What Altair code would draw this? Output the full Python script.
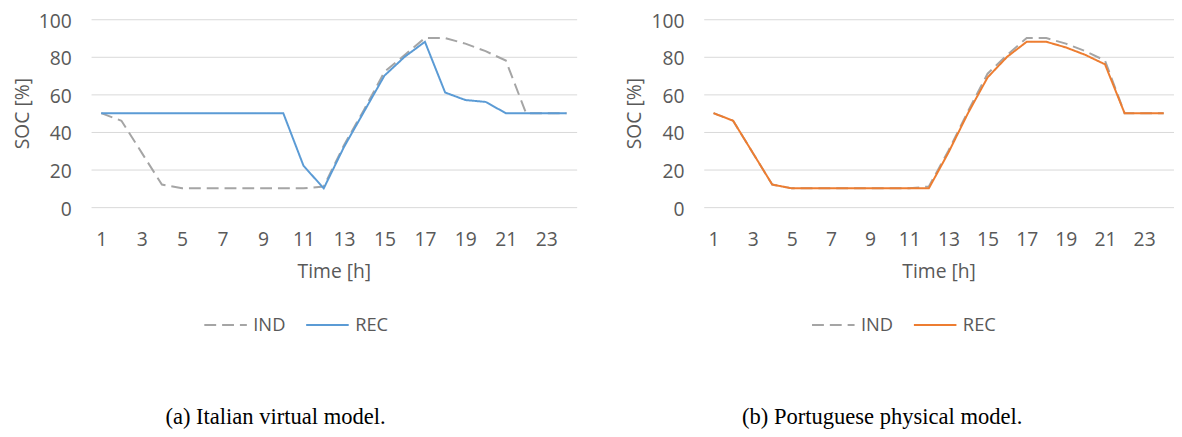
import altair as alt
import pandas as pd

hours = list(range(1, 25))
odd_hours = list(range(1, 25, 2))
series_names = ["IND", "REC"]

# (a) Italian virtual model
it_ind = [50, 46, 29, 12, 10, 10, 10, 10, 10, 10, 10, 11, 33, 52, 72, 81, 90, 90, 87, 83, 78, 50, 50, 50]
it_rec = [50, 50, 50, 50, 50, 50, 50, 50, 50, 50, 22, 10, 32, 51, 70, 80, 88, 61, 57, 56, 50, 50, 50, 50]

# (b) Portuguese physical model
pt_ind = [50, 46, 29, 12, 10, 10, 10, 10, 10, 10, 10, 11, 30, 51, 71, 81, 90, 90, 87, 83, 78, 50, 50, 50]
pt_rec = [50, 46, 29, 12, 10, 10, 10, 10, 10, 10, 10, 10, 29, 50, 69, 80, 88, 88, 85, 81, 76, 50, 50, 50]

y_ticks = [0, 20, 40, 60, 80, 100]

FONT = "Open Sans"
FS = 19.5
TXT = "#595959"
GRAY = "#A5A5A5"


def make_df(ind, rec):
    rows = []
    for h, v in zip(hours, ind):
        rows.append({"hour": h, "SOC": v, "series": "IND"})
    for h, v in zip(hours, rec):
        rows.append({"hour": h, "SOC": v, "series": "REC"})
    return pd.DataFrame(rows)


def panel(ind, rec, color, caption, width, legend_x, title_dx):
    df = make_df(ind, rec)
    legend = alt.Legend(
        orient="none", legendX=legend_x, legendY=286, direction="horizontal",
        title=None, symbolType="stroke", symbolSize=1850, symbolStrokeWidth=2,
        labelFont=FONT, labelFontSize=18.5, labelColor=TXT, labelOffset=5,
        columnPadding=16, padding=0,
    )
    return alt.Chart(df).mark_line(strokeWidth=2).encode(
        x=alt.X("hour:O", axis=alt.Axis(
            values=odd_hours, labelAngle=0, grid=False, ticks=False, domain=False,
            labelPadding=24, labelFont=FONT, labelFontSize=FS, labelColor=TXT,
            title="Time [h]", titleFont=FONT, titleFontSize=FS, titleFontWeight="normal",
            titleColor=TXT, titlePadding=14)),
        y=alt.Y("SOC:Q", scale=alt.Scale(domain=[0, 100]), axis=alt.Axis(
            values=y_ticks, grid=True, gridColor="#D9D9D9", gridWidth=1,
            ticks=False, domain=False, labelPadding=20, labelOffset=2, labelFont=FONT,
            labelFontSize=FS, labelColor=TXT, title="SOC [%]", titleFont=FONT,
            titleFontSize=FS, titleFontWeight="normal", titleColor=TXT, titlePadding=6)),
        color=alt.Color("series:N", scale=alt.Scale(domain=series_names, range=[GRAY, color]), legend=legend),
        strokeDash=alt.StrokeDash("series:N", scale=alt.Scale(domain=series_names, range=[[12, 6], [1, 0]]), legend=legend),
    ).properties(
        width=width, height=190,
        title=alt.TitleParams(caption, orient="bottom", anchor="middle", frame="group",
                              font="Liberation Serif", fontSize=22.8, fontWeight="normal",
                              color="black", dx=title_dx, offset=72),
    )


left = panel(it_ind, it_rec, "#5B9BD5", "(a) Italian virtual model.", 491, 113, -59)
right = panel(pt_ind, pt_rec, "#ED7D31", "(b) Portuguese physical model.", 475, 108, -57)

chart = alt.hconcat(left, right, spacing=48.5).resolve_scale(
    color="independent", strokeDash="independent"
).resolve_legend(
    color="independent", strokeDash="independent"
).properties(
    padding={"left": 4, "top": 1, "right": 0, "bottom": 0}
).configure_view(stroke=None)

chart.save("out.html", embed_options={"renderer": "svg", "actions": False})
